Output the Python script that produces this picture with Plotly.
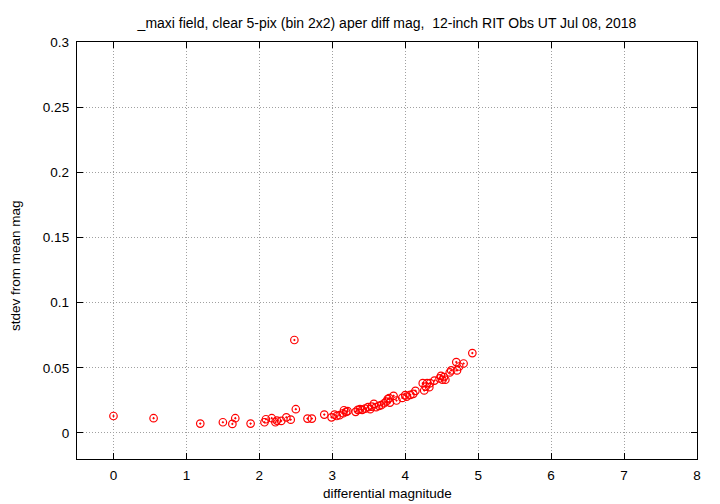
import plotly.graph_objects as go

diff_mag = [0.00, 0.55, 1.19, 1.50, 1.63, 1.67, 1.88, 2.07, 2.09, 2.17, 2.22, 2.24,
            2.30, 2.37, 2.43, 2.48, 2.50, 2.66, 2.72, 2.89, 2.99, 3.03, 3.06, 3.10,
            3.15, 3.16, 3.19, 3.21, 3.32, 3.35, 3.38, 3.41, 3.45, 3.49, 3.52, 3.54,
            3.57, 3.60, 3.64, 3.67, 3.71, 3.74, 3.76, 3.78, 3.79, 3.84, 3.88, 3.96,
            4.00, 4.02, 4.07, 4.11, 4.14, 4.24, 4.26, 4.28, 4.30, 4.33, 4.34, 4.40,
            4.47, 4.49, 4.51, 4.53, 4.55, 4.61, 4.63, 4.70, 4.71, 4.74, 4.80, 4.92]
stdev = [0.0130, 0.0113, 0.0072, 0.0082, 0.0069, 0.0113, 0.0072, 0.0082, 0.0105, 0.0113,
         0.0082, 0.0095, 0.0092, 0.0120, 0.0102, 0.0713, 0.0182, 0.0110, 0.0110, 0.0141,
         0.0120, 0.0141, 0.0130, 0.0136, 0.0151, 0.0174, 0.0162, 0.0167, 0.0162, 0.0177,
         0.0182, 0.0177, 0.0187, 0.0198, 0.0182, 0.0202, 0.0223, 0.0198, 0.0208, 0.0213,
         0.0228, 0.0241, 0.0259, 0.0267, 0.0233, 0.0285, 0.0249, 0.0269, 0.0290, 0.0279,
         0.0292, 0.0300, 0.0323, 0.0382, 0.0326, 0.0356, 0.0382, 0.0351, 0.0382, 0.0402,
         0.0418, 0.0438, 0.0408, 0.0428, 0.0408, 0.0464, 0.0480, 0.0544, 0.0480, 0.0510,
         0.0533, 0.0613]

x_ticks = [0, 1, 2, 3, 4, 5, 6, 7, 8]
y_ticks = [0, 0.05, 0.1, 0.15, 0.2, 0.25, 0.3]
y_ticklabels = ["0", "0.05", "0.1", "0.15", "0.2", "0.25", "0.3"]

title_text = "_maxi field, clear 5-pix (bin 2x2) aper diff mag,  12-inch RIT Obs UT Jul 08, 2018"
x_title = "differential magnitude"
y_title = "stdev from mean mag"

font = "Liberation Sans, Arial, sans-serif"

W, H = 720, 504
L, R, T, B = 77, 23, 42, 45
plot_h = H - T - B

fig = go.Figure()
fig.add_trace(go.Scatter(
    x=diff_mag, y=stdev, mode="markers",
    marker=dict(symbol="circle-open-dot", size=7.5, color="#ff0000",
                line=dict(width=1.2, color="#ff0000")),
    showlegend=False,
))

axis_common = dict(
    showline=True, linecolor="black", linewidth=1.3, mirror="allticks",
    ticks="inside", ticklen=6, tickcolor="black", tickwidth=1,
    showgrid=True, gridcolor="#a0a0a0", griddash="1px,2px", gridwidth=1,
    zeroline=False, automargin=False, ticklabelstandoff=4,
    tickfont=dict(family=font, size=13.5, color="black"),
)

fig.update_layout(
    width=W, height=H,
    margin=dict(l=L, r=R, t=T, b=B, autoexpand=False),
    paper_bgcolor="white", plot_bgcolor="white",
    font=dict(family=font, size=13.5, color="black"),
    title=dict(text=title_text, x=0.5, xanchor="center", xref="paper",
               y=1 - 23 / H, yanchor="middle", yref="container", automargin=False,
               font=dict(family=font, size=14, color="black")),
    xaxis=dict(range=[-0.5, 8], tickvals=x_ticks, **axis_common),
    yaxis=dict(range=[-0.02, 0.3], tickvals=y_ticks, ticktext=y_ticklabels,
               **axis_common),
    annotations=[
        dict(text=x_title, xref="paper", yref="paper", x=0.5,
             y=-(494 - (H - B)) / plot_h, xanchor="center", yanchor="middle",
             showarrow=False, font=dict(family=font, size=13.5, color="black")),
        dict(text=y_title, xref="paper", yref="paper",
             x=-(L - 15) / (W - L - R), y=((H - B) - 266) / plot_h,
             xanchor="center", yanchor="middle", textangle=-90,
             showarrow=False, font=dict(family=font, size=13.5, color="black")),
    ],
)

fig.write_html("out.html",
               config={"displayModeBar": False},
               post_script="document.body.style.margin='0px';document.body.style.overflow='hidden';")
